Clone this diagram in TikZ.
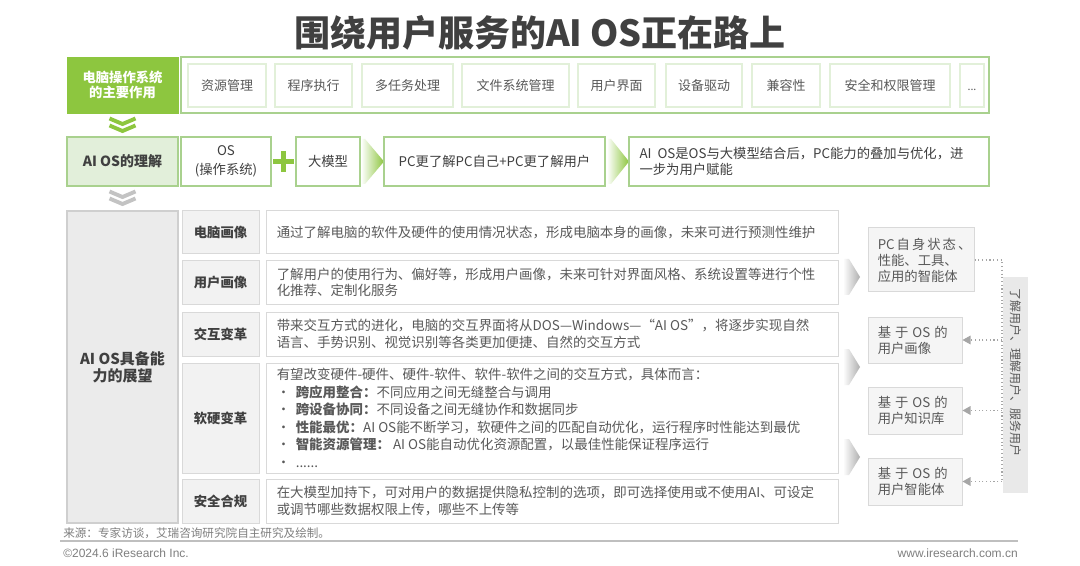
\documentclass[tikz,border=0pt]{standalone}
\usepackage{fontspec}
\setmainfont{Noto Sans CJK SC}
\newfontfamily\arialf{Liberation Sans}
\usetikzlibrary{fit,arrows.meta,calc}
\definecolor{gDark}{HTML}{8DC63F}
\definecolor{gMid}{HTML}{A9D18E}
\definecolor{gLight}{HTML}{E2F0D9}
\definecolor{gFill}{HTML}{E2EFDA}
\definecolor{txt}{HTML}{595959}
\definecolor{txtD}{HTML}{404040}
\definecolor{grBorder}{HTML}{D9D9D9}
\definecolor{grBorderB}{HTML}{CFCFCF}
\definecolor{grFill}{HTML}{F2F2F2}
\definecolor{grFillR}{HTML}{F5F5F5}
\definecolor{grBig}{HTML}{EBEBEB}
\definecolor{grBar}{HTML}{E9E9E9}
\definecolor{grArrow}{HTML}{AFAFAF}
\definecolor{grChev}{HTML}{C3C3C3}
\definecolor{grDot}{HTML}{A6A6A6}
\definecolor{footTxt}{HTML}{7F7F7F}
\definecolor{footLine}{HTML}{BFBFBF}
\newcommand\mybul{\makebox[14.25pt][l]{•}}
% #1 box style, #2 fit points, #3 name, #4 text style, #5 text
\newcommand\mkbox[5]{\node[#1, fit={#2}] (#3) {}; \node[#4] (#3t) at (#3.center) {#5};}
\begin{document}
\begin{tikzpicture}[x=0.75pt,y=-0.75pt,
  every node/.style={inner sep=0pt, text=txt},
  r1box/.style={draw=gLight, line width=0.8pt},
  r1t/.style={font=\fontsize{9.75}{12}\selectfont, text=txt},
  gframe/.style={draw=gMid, line width=1.1pt},
  gt/.style={font=\fontsize{10}{14}\selectfont, text=txtD, align=center},
  greenhead/.style={fill=gDark, draw=gDark},
  headt/.style={text=white, font=\fontsize{10}{11.5}\selectfont\bfseries, align=center},
  gfillbox/.style={fill=gFill, draw=gMid, line width=1.1pt},
  gfillt/.style={font=\fontsize{10.5}{12}\selectfont\bfseries, text=txtD},
  bigbox/.style={fill=grBig, draw=grBorderB, line width=0.8pt},
  bigt/.style={font=\fontsize{11.25}{12.75}\selectfont\bfseries, text=txtD, align=center},
  catbox/.style={fill=grFill, draw=grBorder, line width=0.75pt},
  catt/.style={font=\fontsize{10}{12}\selectfont\bfseries, text=txtD},
  descbox/.style={fill=white, draw=grBorder, line width=0.75pt},
  desctext/.style={anchor=west, align=left, font=\fontsize{10.1}{12.5}\selectfont, text=txt},
  rbox/.style={fill=grFillR, draw=grBorder, line width=0.75pt},
  rtext/.style={anchor=west, align=left, font=\fontsize{10}{12}\selectfont, text=txt},
  barbox/.style={fill=grBar, draw=none},
  chev/.style={line width=2.9pt, miter limit=10},
  plus/.style={draw=gDark, line width=3.6pt},
  dotc/.style={draw=grDot, dotted, line width=0.8pt},
  foot/.style={font=\fontsize{8.7}{10}\selectfont, text=footTxt},
  footl/.style={font=\arialf\fontsize{9}{10}\selectfont, text=footTxt}
]
\useasboundingbox[fill=white] (0,0) rectangle (1080,566);

% title
\node[font=\fontsize{27}{30}\selectfont\bfseries, text=txtD] (title) at (540,33) {围绕用户服务的AI OS正在路上};

% row 1
\mkbox{greenhead}{(67,57) (178,113)}{r1h}{headt}{电脑操作系统\\的主要作用}
\node[gframe, fit={(181,57) (989,113)}] (r1c) {};
\mkbox{r1box}{(188,64) (266,107)}{f1}{r1t}{资源管理}
\mkbox{r1box}{(275,64) (352,107)}{f2}{r1t}{程序执行}
\mkbox{r1box}{(362,64) (453,107)}{f3}{r1t}{多任务处理}
\mkbox{r1box}{(462,64) (569,107)}{f4}{r1t}{文件系统管理}
\mkbox{r1box}{(578,64) (655,107)}{f5}{r1t}{用户界面}
\mkbox{r1box}{(666,64) (742,107)}{f6}{r1t}{设备驱动}
\mkbox{r1box}{(752,64) (820,107)}{f7}{r1t}{兼容性}
\mkbox{r1box}{(830,64) (950,107)}{f8}{r1t}{安全和权限管理}
\mkbox{r1box}{(960,64) (984,107)}{f9}{r1t}{\vphantom{理}{\fontsize{8}{10}\selectfont ...}}

% green chevrons
\draw[chev, gDark] (109.5,118.5) -- (122.5,124) -- (135.5,118.5);
\draw[chev, gDark] (109.5,125.5) -- (122.5,131) -- (135.5,125.5);

% row 2
\mkbox{gfillbox}{(67,137) (178,186)}{r2h}{gfillt}{AI OS的理解}
\mkbox{gframe}{(181,137) (271,186)}{os}{gt}{OS\\(操作系统)}
\draw[plus] (273,161.5) -- (294,161.5);
\draw[plus] (283.5,151) -- (283.5,172);
\mkbox{gframe}{(296,137) (360,186)}{llm}{gt}{大模型}
\shade[left color=white, right color=gDark] (361,139) -- (365,139) -- (384,161.5) -- (365,184) -- (361,184) -- cycle;
\mkbox{gframe}{(384,137) (605,186)}{pcu}{gt}{PC更了解PC自己+PC更了解用户}
\shade[left color=white, right color=gDark] (607,139) -- (611,139) -- (629,161.5) -- (611,184) -- (607,184) -- cycle;
\node[gframe, fit={(629,137) (989,186)}] (aios) {};
\node[anchor=west, align=left, font=\fontsize{10}{11.5}\selectfont, text=txtD] (aiost) at ([xshift=8.25pt]aios.west) {AI\ \ OS是OS与大模型结合后，PC能力的叠加与优化，进\\一步为用户赋能};

% gray chevrons
\draw[chev, grChev] (109.5,191.5) -- (122.5,197) -- (135.5,191.5);
\draw[chev, grChev] (109.5,198.5) -- (122.5,204) -- (135.5,198.5);

% row 3 left
\mkbox{bigbox}{(67,211) (178,523)}{r3h}{bigt}{AI OS具备能\\力的展望}

\mkbox{catbox}{(182,211) (259,254)}{c1}{catt}{电脑画像}
\mkbox{catbox}{(182,261) (259,304)}{c2}{catt}{用户画像}
\mkbox{catbox}{(182,312) (259,356)}{c3}{catt}{交互变革}
\mkbox{catbox}{(182,363) (259,473)}{c4}{catt}{软硬变革}
\mkbox{catbox}{(182,479) (259,523)}{c5}{catt}{安全合规}

\node[descbox, fit={(266,211) (838,254)}] (d1) {};
\node[descbox, fit={(266,261) (838,304)}] (d2) {};
\node[descbox, fit={(266,312) (838,356)}] (d3) {};
\node[descbox, fit={(266,363) (838,473)}] (d4) {};
\node[descbox, fit={(266,479) (838,523)}] (d5) {};

\node[desctext] (d1t) at ([xshift=8.25pt]d1.west) {通过了解电脑的软件及硬件的使用情况状态，形成电脑本身的画像，未来可进行预测性维护};
\node[desctext] (d2t) at ([xshift=8.25pt]d2.west) {了解用户的使用行为、偏好等，形成用户画像，未来可针对界面风格、系统设置等进行个性\\化推荐、定制化服务};
\node[desctext] (d3t) at ([xshift=8.25pt]d3.west) {带来交互方式的进化，电脑的交互界面将从DOS—Windows—“AI OS”，将逐步实现自然\\语言、手势识别、视觉识别等各类更加便捷、自然的交互方式};
\node[desctext, font=\fontsize{10.1}{13.1}\selectfont] (d4t) at ([xshift=8.25pt]d4.west) {有望改变硬件-硬件、硬件-软件、软件-软件之间的交互方式，具体而言：\\
\mybul\textbf{跨应用整合：}不同应用之间无缝整合与调用\\
\mybul\textbf{跨设备协同：}不同设备之间无缝协作和数据同步\\
\mybul\textbf{性能最优：}AI OS能不断学习，软硬件之间的匹配自动优化，运行程序时性能达到最优\\
\mybul\textbf{智能资源管理：}\ AI OS能自动优化资源配置，以最佳性能保证程序运行\\
\mybul ......};
\node[desctext] (d5t) at ([xshift=8.25pt]d5.west) {在大模型加持下，可对用户的数据提供隐私控制的选项，即可选择使用或不使用AI、可设定\\或调节哪些数据权限上传，哪些不上传等};

% right column arrows
\shade[left color=white, right color=grArrow] (843,259) -- (849,259) -- (860,277) -- (849,295) -- (843,295) -- cycle;
\shade[left color=white, right color=grArrow] (843,349) -- (849,349) -- (860,367) -- (849,385) -- (843,385) -- cycle;
\shade[left color=white, right color=grArrow] (843,439) -- (849,439) -- (860,457) -- (849,475) -- (843,475) -- cycle;

% right column boxes
\node[rbox, fit={(868,228) (974,292)}] (pc) {};
\node[rtext] (pct) at ([xshift=7.5pt]pc.west) {PC\hspace{1.5pt}自\hspace{1.5pt}身\hspace{1.5pt}状\hspace{1.5pt}态\hspace{1.5pt}、\\性能、工具、\\应用的智能体};
\node[rbox, fit={(868,317) (962,363)}] (up) {};
\node[rtext] (upt) at ([xshift=7.5pt]up.west) {基\hspace{3pt}于\hspace{3pt}OS\hspace{3pt}的\\用户画像};
\node[rbox, fit={(868,387) (962,434)}] (kb) {};
\node[rtext] (kbt) at ([xshift=7.5pt]kb.west) {基\hspace{3pt}于\hspace{3pt}OS\hspace{3pt}的\\用户知识库};
\node[rbox, fit={(868,458) (962,505)}] (ag) {};
\node[rtext] (agt) at ([xshift=7.5pt]ag.west) {基\hspace{3pt}于\hspace{3pt}OS\hspace{3pt}的\\用户智能体};

% gray bar
\node[barbox, fit={(1003,277) (1028,493)}] (bar) {};
\node[rotate=-90, font=\fontsize{9}{10}\selectfont, text=txt] (bart) at (1015.5,372) {了解用户、理解用户、服务用户};

% dotted connectors
\coordinate (j1) at (1002,260);
\coordinate (j4) at (1002,482);
\draw[dotc] (pc.east) -- (j1) -- (j4);
\draw[dotc, -{Triangle[length=6pt,width=6.5pt]}] (j1 |- up.east) -- (up.east);
\draw[dotc, -{Triangle[length=6pt,width=6.5pt]}] (j1 |- kb.east) -- (kb.east);
\draw[dotc, -{Triangle[length=6pt,width=6.5pt]}] (j1 |- ag.east) -- (ag.east);

% footer
\node[foot, anchor=west] (src) at (63,533) {来源：专家访谈，艾瑞咨询研究院自主研究及绘制。};
\draw[footLine, line width=0.8pt] (60,541) -- (1018,541);
\node[footl, anchor=west] (copy) at (63,553) {©2024.6 iResearch Inc.};
\node[footl, anchor=east] (web) at (1018,553) {www.iresearch.com.cn};
\end{tikzpicture}
\end{document}
